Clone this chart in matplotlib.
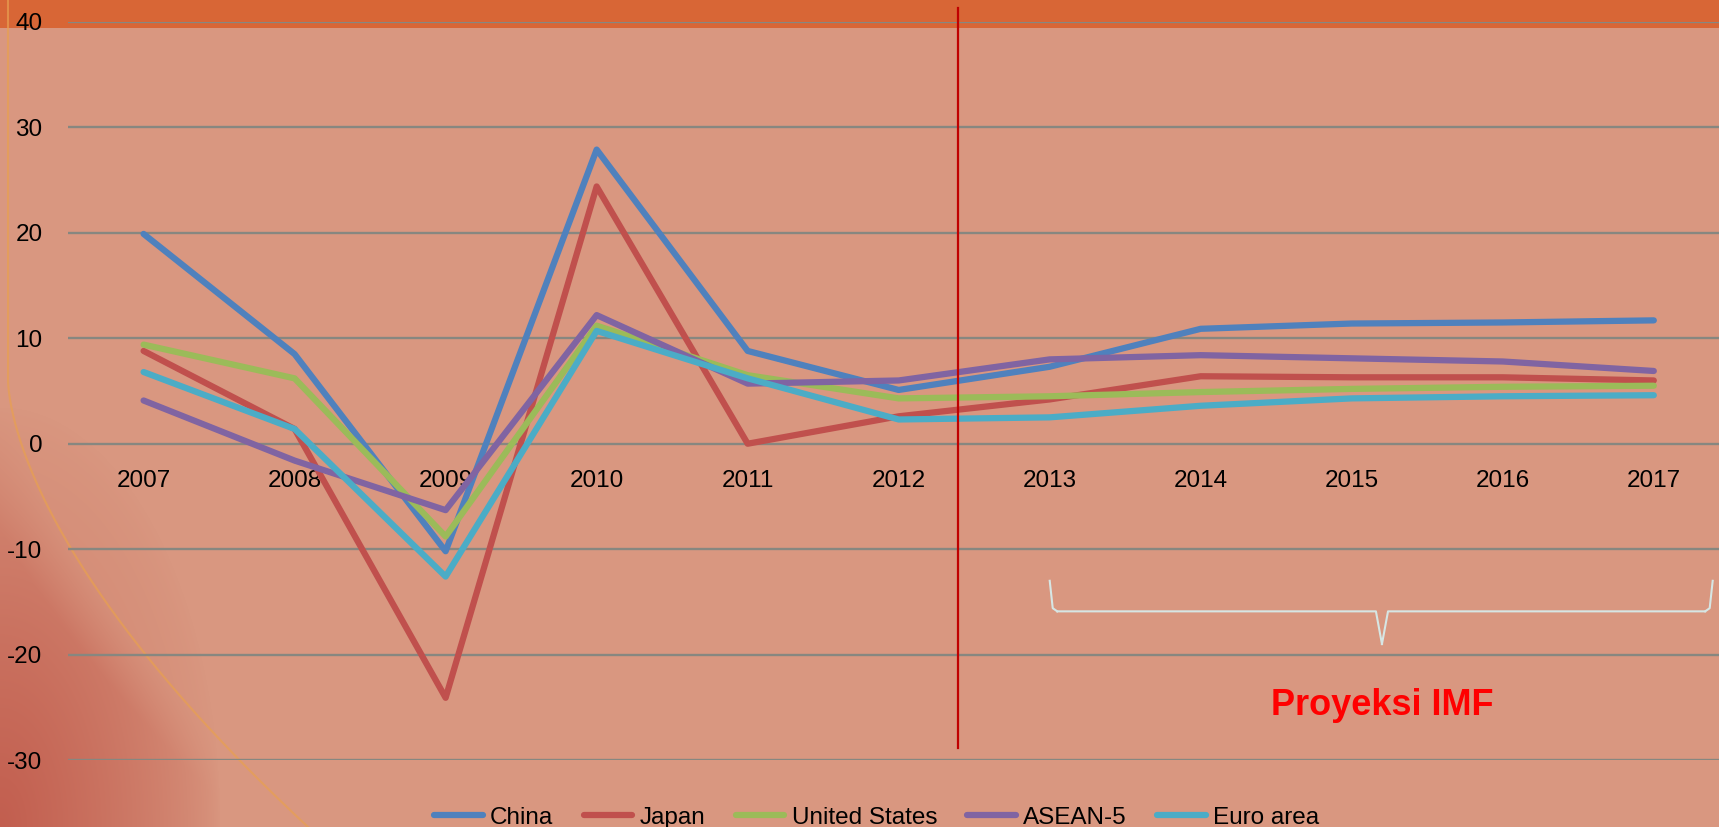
import numpy as np
import matplotlib
matplotlib.use("Agg")
import matplotlib.pyplot as plt

years = ["2007", "2008", "2009", "2010", "2011", "2012",
         "2013", "2014", "2015", "2016", "2017"]
china = [19.9, 8.5, -10.2, 27.9, 8.8, 5.1, 7.3, 10.9, 11.4, 11.5, 11.7]
japan = [8.8, 1.4, -24.1, 24.4, 0.0, 2.6, 4.2, 6.4, 6.3, 6.3, 6.0]
united_states = [9.4, 6.2, -8.8, 11.2, 6.5, 4.3, 4.5, 4.9, 5.2, 5.4, 5.5]
asean5 = [4.1, -1.6, -6.3, 12.2, 5.7, 6.0, 8.0, 8.4, 8.1, 7.8, 6.9]
euro_area = [6.8, 1.4, -12.6, 10.7, 6.2, 2.3, 2.5, 3.6, 4.3, 4.5, 4.6]

series = [("China", china, "#4F81BD"),
          ("Japan", japan, "#C0504D"),
          ("United States", united_states, "#9BBB59"),
          ("ASEAN-5", asean5, "#8064A2"),
          ("Euro area", euro_area, "#4BACC6")]

plt.rcParams['font.family'] = ['Liberation Sans', 'DejaVu Sans']
plt.rcParams['axes.unicode_minus'] = False

fig = plt.figure(figsize=(17.19, 8.27), dpi=100)

# background: salmon slide with orange top band and darker lower-left swirl
bg = fig.add_axes([0, 0, 1, 1])
H, W = 827, 1719
yy, xx = np.mgrid[0:H, 0:W]
img = np.zeros((H, W, 3))
img[:] = np.array([217, 151, 128]) / 255
dark = np.array([190, 84, 70]) / 255
arc_x = np.clip(((yy - 380) / 447.0), 0, None) ** 1.6 * 300 + 8
inside = np.clip((arc_x - xx) / 60.0, 0, 1)
d = np.clip(1 - np.hypot(xx / 220.0, (H - yy) / 420.0), 0, 1) ** 0.7
w = (d * (0.35 + 0.65 * inside))[..., None] * 0.85
img = img * (1 - w) + dark * w
top = yy < 28
img[top] = np.array([216, 102, 54]) / 255
bg.imshow(img, extent=[0, W, H, 0], aspect='auto')
ay = np.linspace(0, H, 200)
ax_arc = np.clip(((ay - 380) / 447.0), 0, None) ** 1.6 * 300 + 8
bg.plot(ax_arc, ay, color="#E8A050", lw=1.5, alpha=0.7)
bg.set_xlim(0, W)
bg.set_ylim(H, 0)
bg.axis("off")

ax = fig.add_axes([0.0396, 0.081, 0.9664, 0.8924])
ax.patch.set_alpha(0)
x = np.arange(len(years))
for name, vals, col in series:
    ax.plot(x, vals, color=col, lw=4.5, label=name, solid_capstyle='round')

ax.set_xlim(-0.5, len(years) - 0.5)
ax.set_ylim(-30, 40)
ax.set_yticks(range(-30, 41, 10))
ax.grid(axis='y', color='#878780', lw=1.7)
ax.set_axisbelow(True)
for s in ['top', 'right', 'left']:
    ax.spines[s].set_visible(False)
ax.spines['bottom'].set_position(('data', 0))
ax.spines['bottom'].set_visible(False)
ax.set_xticks(x)
ax.set_xticklabels(years)
ax.tick_params(axis='x', length=0, pad=19, labelsize=17.5)
ax.tick_params(axis='y', length=0, pad=18.5, labelsize=17.5)

# projection divider
ax.plot([5.39, 5.39], [41.3, -28.9], color="#C00000", lw=1.6, clip_on=False)

# brace over projection years
bx0, bx1, bxm = 6.0, 10.39, 8.2
yt, yb, ytip = -13.0, -15.9, -19.0
bc = "#D6E6E4"
ax.plot([bx0, bx0 + 0.02, bx0 + 0.05], [yt, yb + 0.3, yb], color=bc, lw=1.5)
ax.plot([bx0 + 0.05, bxm - 0.04, bxm], [yb, yb, ytip], color=bc, lw=1.5)
ax.plot([bxm, bxm + 0.04, bx1 - 0.05], [ytip, yb, yb], color=bc, lw=1.5)
ax.plot([bx1 - 0.05, bx1 - 0.02, bx1], [yb, yb + 0.3, yt], color=bc, lw=1.5)
ax.text(bxm, -24.8, "Proyeksi IMF", color="#FF0000", fontsize=26,
        fontweight='bold', ha='center', va='center')

ax.legend(loc='lower center', bbox_to_anchor=(0.51, -0.002),
          bbox_transform=fig.transFigure, ncol=5, frameon=False,
          fontsize=17.5, handlelength=2.0, handletextpad=0.3,
          columnspacing=1.25, borderpad=0, borderaxespad=0)

fig.savefig("out.png", dpi=100)
